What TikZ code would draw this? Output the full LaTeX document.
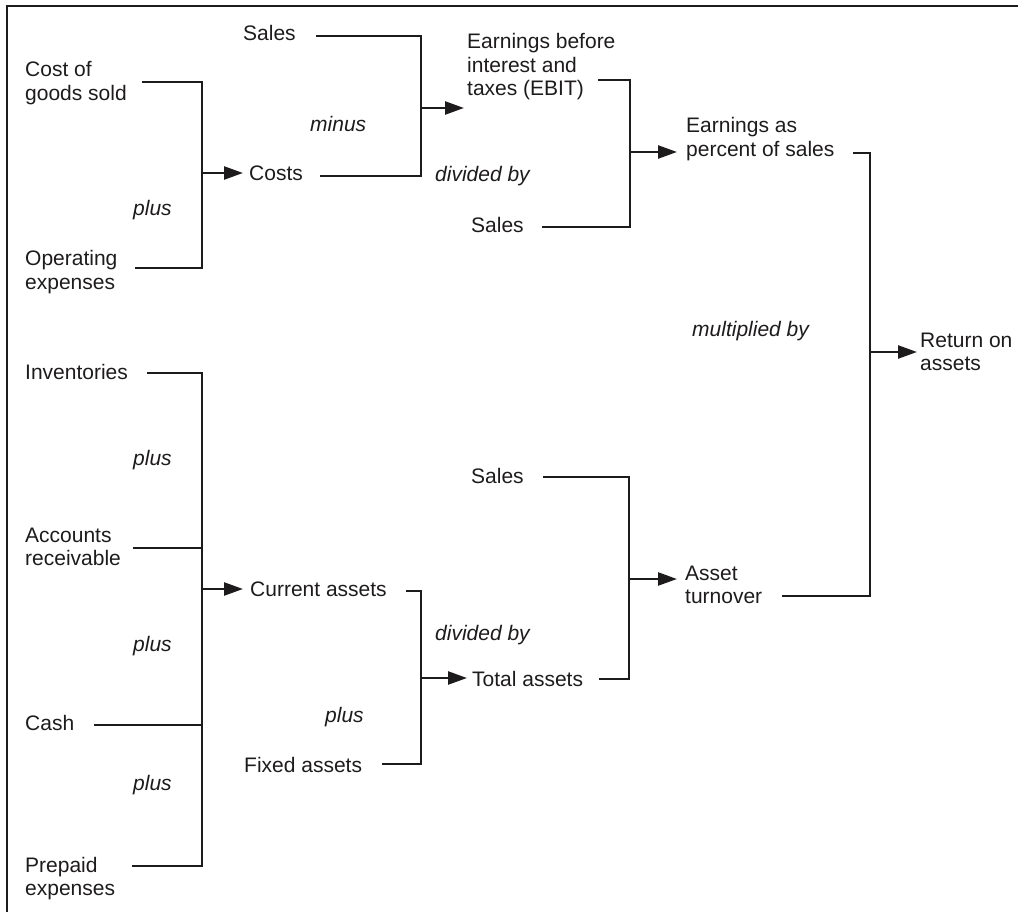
\documentclass[tikz,border=0pt]{standalone}
\usepackage{fontspec}
\setmainfont{Liberation Sans}
\usetikzlibrary{arrows.meta}
\definecolor{ink}{RGB}{30,27,28}
% multi-line label whose baseline is that of its first line
\newcommand\mlines[1]{\begin{tabular}[t]{@{}l@{}}#1\end{tabular}}
\begin{document}
\begin{tikzpicture}[x=1pt,y=-1pt,
  lbl/.style={font=\fontsize{21}{23.5}\selectfont, text=ink, inner sep=0pt, anchor=base west},
  oplbl/.style={lbl, font=\fontsize{21}{23.5}\selectfont\itshape},
  conn/.style={draw=ink, line width=2.4pt},
  arr/.style={conn, -{Triangle[length=19pt,width=13pt]}},
]
\useasboundingbox (0,0) rectangle (1018,912);

% frame (top and left edges)
\draw[conn, line width=2pt] (7.3,912) -- (7.3,5.7) -- (1018,5.7);

% ---------- labels ----------
\node[lbl] (salesA) at (243,41) {Sales};
\node[lbl] (cogs)   at (25,77)  {\mlines{Cost of\\goods sold}};
\node[lbl] (costs)  at (249,181) {Costs};
\node[lbl] (opex)   at (25,266) {\mlines{Operating\\expenses}};
\node[oplbl] (plusA) at (133,216) {plus};
\node[oplbl] (minus) at (310,132) {minus};
\node[lbl] (ebit)   at (467,49) {\mlines{Earnings before\\interest and\\taxes (EBIT)}};
\node[oplbl] (divA) at (435,182) {divided by};
\node[lbl] (salesB) at (471,233) {Sales};
\node[lbl] (eps)    at (686,133) {\mlines{Earnings as\\percent of sales}};
\node[oplbl] (mult) at (692,337) {multiplied by};
\node[lbl] (roa)    at (920,347) {\mlines{Return on\\assets}};

\node[lbl] (inv)    at (25,379) {Inventories};
\node[oplbl] (plusB) at (133,465) {plus};
\node[lbl] (ar)     at (25,542) {\mlines{Accounts\\receivable}};
\node[lbl] (ca)     at (250,596) {Current assets};
\node[oplbl] (plusC) at (133,651) {plus};
\node[lbl] (cash)   at (25,730) {Cash};
\node[oplbl] (plusD) at (133,790) {plus};
\node[lbl] (pp)     at (25,872) {\mlines{Prepaid\\expenses}};
\node[lbl] (salesC) at (471,483) {Sales};
\node[lbl] (at)     at (685,580) {\mlines{Asset\\turnover}};
\node[oplbl] (divB) at (435,640) {divided by};
\node[lbl] (ta)     at (472,686) {Total assets};
\node[oplbl] (plusE) at (325,722) {plus};
\node[lbl] (fa)     at (244,772) {Fixed assets};

% ---------- line ends and junctions ----------
\coordinate (cogsR)   at (142,82);
\coordinate (opexR)   at (135,268);
\coordinate (jCosts)  at (202,173);

\coordinate (salesAR) at (316,36);
\coordinate (costsR)  at (320,176);
\coordinate (jEbit)   at (421,108);

\coordinate (ebitR)   at (598,80);
\coordinate (salesBR) at (542,227);
\coordinate (jEps)    at (630,152);

\coordinate (epsR)    at (853,153);
\coordinate (atR)     at (782,596);
\coordinate (jRoa)    at (870,352);

\coordinate (invR)    at (147,373);
\coordinate (arR)     at (133,548);
\coordinate (cashR)   at (94,725);
\coordinate (ppR)     at (132,866);
\coordinate (jCa)     at (202,589);

\coordinate (caR)     at (406,591);
\coordinate (faR)     at (382,764);
\coordinate (jTa)     at (421,678);

\coordinate (salesCR) at (543,477);
\coordinate (taR)     at (599,679);
\coordinate (jAt)     at (629,579);

% ---------- brackets ----------
\draw[conn] (cogsR) -| (jCosts) |- (opexR);
\draw[conn] (salesAR) -| (jEbit) |- (costsR);
\draw[conn] (ebitR) -| (jEps) |- (salesBR);
\draw[conn] (epsR) -| (jRoa) |- (atR);
\draw[conn] (invR) -| (jCa) |- (ppR);
\draw[conn] (arR) -- (arR -| jCa);
\draw[conn] (cashR) -- (cashR -| jCa);
\draw[conn] (caR) -| (jTa) |- (faR);
\draw[conn] (salesCR) -| (jAt) |- (taR);

% ---------- arrows ----------
\draw[arr, shorten >=6pt] (jCosts) -- (jCosts -| costs.west);
\draw[arr, shorten >=3pt] (jEbit) -- (jEbit -| ebit.west);
\draw[arr, shorten >=9pt] (jEps) -- (jEps -| eps.west);
\draw[arr, shorten >=3pt] (jRoa) -- (jRoa -| roa.west);
\draw[arr, shorten >=7pt] (jCa) -- (jCa -| ca.west);
\draw[arr, shorten >=5pt] (jTa) -- (jTa -| ta.west);
\draw[arr, shorten >=8pt] (jAt) -- (jAt -| at.west);
\end{tikzpicture}
\end{document}
